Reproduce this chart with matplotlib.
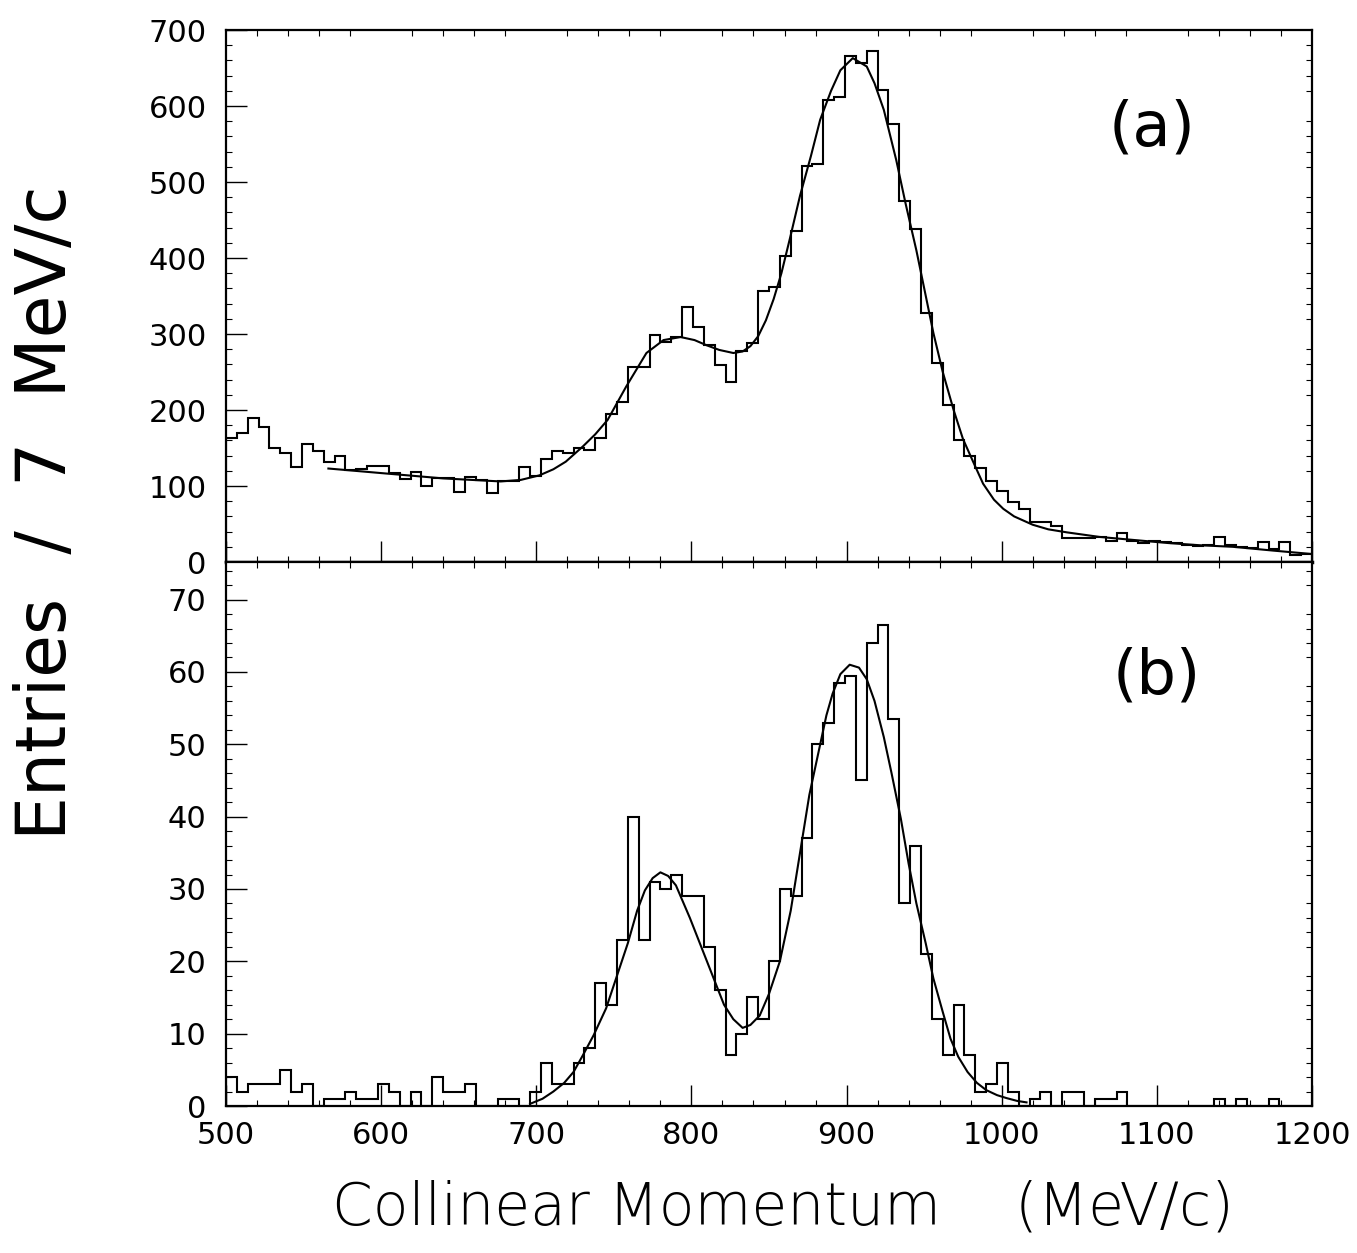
import numpy as np
import matplotlib
matplotlib.use("Agg")
import matplotlib.pyplot as plt
from matplotlib.ticker import MultipleLocator

# bin edges: 7 MeV/c bins from 500 to 1200
edges = np.arange(500, 1201, 7)

# (a) counts per bin
counts_a = [163, 170, 190, 177, 150, 143, 125, 155, 146, 132,
            140, 121, 122, 126, 126, 117, 109, 119, 100, 110,
            110, 92, 112, 108, 91, 107, 107, 125, 113, 135,
            146, 143, 150, 147, 163, 195, 211, 257, 257, 299,
            290, 296, 335, 309, 285, 259, 237, 277, 288, 356,
            362, 402, 435, 521, 524, 608, 612, 666, 656, 672,
            621, 576, 475, 438, 328, 262, 207, 160, 140, 124,
            107, 94, 79, 70, 53, 52, 47, 31, 31, 32,
            33, 28, 38, 27, 25, 27, 26, 25, 22, 21,
            22, 33, 22, 20, 18, 26, 17, 26, 9, 11]

# (b) counts per bin
counts_b = [4, 2, 3, 3, 3, 5, 2, 3, 0, 1,
            1, 2, 1, 1, 3, 2, 0, 2, 0, 4,
            2, 2, 3, 0, 0, 1, 1, 0, 2, 6,
            3, 3, 6, 8, 17, 14, 23, 40, 23, 31,
            30, 32, 29, 29, 22, 16, 7, 10, 15, 12,
            20, 30, 29, 37, 50, 53, 58.5, 59.5, 45, 64,
            66.5, 53.5, 28, 36, 21, 12, 7, 14, 7, 2,
            3, 6, 2, 0, 1, 2, 0, 2, 2, 0,
            1, 1, 2, 0, 0, 0, 0, 0, 0, 0,
            0, 1, 0, 1, 0, 0, 1, 0, 0, 0]

# fitted curves
fit_a_x = [566, 600, 640, 677, 690, 702, 711, 719, 730, 738, 746, 758, 771, 782,
           793, 802, 810, 818, 827, 833, 838, 843, 848, 853, 858, 864, 870, 877, 883, 890,
           896, 904, 913, 918, 924, 932, 938, 945, 956, 962, 969, 975, 982, 988,
           995, 1001, 1008, 1020, 1030, 1042, 1063, 1085, 1107, 1128, 1149, 1175, 1200]
fit_a_y = [123, 117, 110, 106, 108, 114, 122, 132, 152, 168, 187, 231, 275, 292,
           296, 292, 285, 279, 275, 277, 284, 297, 318, 346, 380, 430, 482, 534, 582, 620,
           647, 663, 652, 630, 595, 529, 472, 410, 301, 250, 200, 162, 130, 103,
           82, 70, 60, 49, 43, 39, 33, 29, 25, 22, 20, 15, 10.5]

fit_b_x = [696, 704, 711, 718, 724, 730, 737, 745, 752, 759, 765, 770, 775, 780,
           785, 790, 799, 810, 821, 827, 833, 838, 844, 850, 857, 864, 870, 876,
           883, 887, 891, 896, 902, 908, 913, 918, 924, 929, 935, 940, 945, 951,
           956, 962, 967, 972, 978, 984, 990, 997, 1003, 1010, 1016]
fit_b_y = [0.3, 1.0, 2.0, 3.2, 4.7, 7.0, 9.8, 13.5, 18, 22.5, 27, 29.8, 31.5, 32.3,
           31.8, 30.5, 26, 20, 14, 12, 10.8, 11.2, 12.5, 15.5, 20, 27, 35, 43,
           50, 54, 57, 59.7, 61, 60.6, 59, 56, 51, 46, 39.7, 33.5, 28, 22.5,
           17.6, 13, 9.3, 6.8, 4.7, 3.2, 2.2, 1.5, 1.1, 0.7, 0.5]

W, H = 1357, 1253
fig = plt.figure(figsize=(W / 100, H / 100), dpi=100)

left = 226 / W
width = (1312 - 226) / W
ax_a = fig.add_axes([left, 1 - 562 / H, width, (562 - 30) / H])
ax_b = fig.add_axes([left, 1 - 1106 / H, width, (1106 - 562) / H])

for ax in (ax_a, ax_b):
    for s in ax.spines.values():
        s.set_linewidth(1.6)
    ax.set_xlim(500, 1200)
    ax.xaxis.set_major_locator(MultipleLocator(100))
    ax.xaxis.set_minor_locator(MultipleLocator(20))
    ax.tick_params(which='major', direction='in', length=15, width=1.0,
                   labelsize=22, top=False, right=False)
    ax.tick_params(which='minor', direction='in', length=4, width=0.8,
                   top=True, right=True)
    ax.tick_params(axis='y', pad=14)
    ax.tick_params(axis='x', pad=11)

ax_a.stairs(counts_a, edges, color='black', linewidth=1.5)
ax_a.plot(fit_a_x, fit_a_y, color='black', linewidth=1.5)
ax_a.set_ylim(0, 700)
ax_a.yaxis.set_major_locator(MultipleLocator(100))
ax_a.yaxis.set_minor_locator(MultipleLocator(20))
ax_a.tick_params(axis='x', labelbottom=False)
ax_a.spines['bottom'].set_linewidth(2.5)
ax_a.text(0.853, 0.815, '(a)', transform=ax_a.transAxes, fontsize=45,
          ha='center', va='center')

ax_b.stairs(counts_b, edges, color='black', linewidth=1.5)
ax_b.plot(fit_b_x, fit_b_y, color='black', linewidth=1.5)
ax_b.set_ylim(0, 75.2)
ax_b.yaxis.set_major_locator(MultipleLocator(10))
ax_b.yaxis.set_minor_locator(MultipleLocator(2))
ax_b.text(0.857, 0.79, '(b)', transform=ax_b.transAxes, fontsize=45,
          ha='center', va='center')

fig.text(0.034, 1 - 513 / H, 'Entries  /  7  MeV/c', rotation=90, fontsize=50,
         ha='center', va='center')
fig.text(0.577, 1 - 1208 / H, 'Collinear Momentum    (MeV/c)', fontsize=42,
         ha='center', va='center', fontweight='light')

fig.savefig('out.png', dpi=100)
